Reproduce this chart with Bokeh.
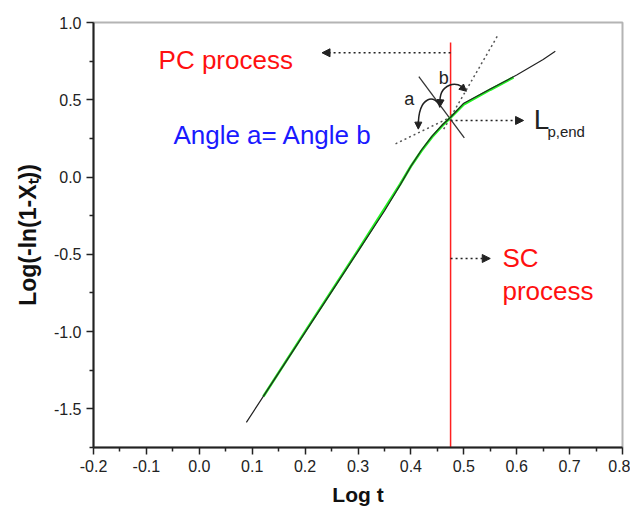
import numpy as np
from bokeh.plotting import figure
from bokeh.models import (FixedTicker, NumeralTickFormatter, Label, Arrow,
                          NormalHead)
from bokeh.embed import file_html
from bokeh.resources import INLINE

# ---- data ----
curve_x = [0.089, 0.15, 0.20, 0.25, 0.30, 0.35, 0.38, 0.40, 0.42, 0.44, 0.46, 0.475, 0.50, 0.55, 0.60, 0.65, 0.673]
curve_y = [-1.587, -1.267, -1.005, -0.743, -0.481, -0.22, -0.05, 0.07, 0.175, 0.265, 0.34, 0.387, 0.478, 0.57, 0.66, 0.76, 0.814]
fit_x = [0.121, 0.20, 0.30, 0.38, 0.40, 0.42, 0.44, 0.46, 0.475, 0.50, 0.55, 0.594]
fit_y = [-1.42, -1.0, -0.475, -0.045, 0.07, 0.17, 0.26, 0.335, 0.385, 0.47, 0.565, 0.645]
x_ticks = [-0.2, -0.1, 0.0, 0.1, 0.2, 0.3, 0.4, 0.5, 0.6, 0.7, 0.8]
y_ticks = [-1.5, -1.0, -0.5, 0.0, 0.5, 1.0]
x_minor = [-0.15, -0.05, 0.05, 0.15, 0.25, 0.35, 0.45, 0.55, 0.65, 0.75]
y_minor = [-1.75, -1.25, -0.75, -0.25, 0.25, 0.75]
log_t_end = 0.475      # end of PC process (red line)
knee_y = 0.387

FONT = "Liberation Sans"

p = figure(frame_width=529, frame_height=425,
           min_border_left=93, min_border_right=8,
           min_border_top=22, min_border_bottom=56,
           x_range=(-0.2, 0.8), y_range=(-1.75, 1.0),
           output_backend="svg", toolbar_location=None)
p.background_fill_color = "white"
p.border_fill_color = "white"
p.xgrid.visible = False
p.ygrid.visible = False
p.outline_line_color = "#b4b4b4"
p.outline_line_width = 2

p.xaxis.ticker = FixedTicker(ticks=x_ticks, minor_ticks=x_minor)
p.yaxis.ticker = FixedTicker(ticks=y_ticks, minor_ticks=y_minor)
for ax in (p.xaxis, p.yaxis):
    ax.formatter = NumeralTickFormatter(format="0.0")
    ax.axis_line_color = "#222222"
    ax.axis_line_width = 2
    ax.major_tick_line_color = "#222222"
    ax.minor_tick_line_color = "#222222"
    ax.major_tick_line_width = 1.5
    ax.minor_tick_line_width = 1.5
    ax.major_tick_out = 7
    ax.major_tick_in = 0
    ax.minor_tick_out = 4
    ax.minor_tick_in = 0
    ax.major_label_text_font = FONT
    ax.major_label_text_font_size = "16px"
    ax.major_label_text_color = "#222222"
    ax.axis_label_text_font = FONT
    ax.axis_label_text_font_style = "bold"
    ax.axis_label_text_font_size = "21px"
    ax.axis_label_text_color = "#111111"
p.yaxis.axis_label_text_font_size = "23px"
p.xaxis.axis_label = "Log t"
p.yaxis.axis_label = "Log(-ln(1-X\u209c))"
p.xaxis.major_label_standoff = 5
p.xaxis.axis_label_standoff = 8
p.yaxis.major_label_standoff = 5
p.yaxis.axis_label_standoff = 10

# red vertical line
p.segment(x0=[log_t_end], y0=[-1.75], x1=[log_t_end], y1=[0.87],
          line_color="#ff2020", line_width=1.5)

# tangent dotted lines
p.line([0.371, 0.475], [0.215, knee_y], line_color="#555555", line_width=1.5, line_dash="2 3")
p.line([0.462, 0.566], [0.31, 0.927], line_color="#555555", line_width=1.5, line_dash="2 3")
# solid crossing line
p.line([0.415, 0.501], [0.650, 0.254], line_color="#333333", line_width=1.3)

# data curve and fit
p.line(fit_x, fit_y, line_color="#22f022", line_width=2.6)
p.line(curve_x, curve_y, line_color="#222222", line_width=1.2)

# angle arcs
p.bezier(x0=[0.455], y0=[0.45], x1=[0.414], y1=[0.33],
         cx0=[0.447], cy0=[0.54], cx1=[0.414], cy1=[0.53],
         line_color="#222222", line_width=1.5)
p.bezier(x0=[0.455], y0=[0.47], x1=[0.502], y1=[0.565],
         cx0=[0.452], cy0=[0.61], cx1=[0.49], cy1=[0.63],
         line_color="#222222", line_width=1.5)

def head(x0, y0, x1, y1, size=7):
    p.add_layout(Arrow(end=NormalHead(size=size, fill_color="#222222", line_color="#222222"),
                       x_start=x0, y_start=y0, x_end=x1, y_end=y1,
                       line_color="#222222", line_width=1.5))

head(0.414, 0.36, 0.414, 0.31)
head(0.456, 0.50, 0.455, 0.455)
head(0.495, 0.585, 0.505, 0.555)

# dotted arrows
def dotted_arrow(x0, y0, x1, y1):
    p.add_layout(Arrow(end=NormalHead(size=8, fill_color="#222222", line_color="#222222"),
                       x_start=x0, y_start=y0, x_end=x1, y_end=y1,
                       line_color="#222222", line_width=1.5, line_dash="2 3"))

dotted_arrow(log_t_end, 0.804, 0.232, 0.804)
dotted_arrow(log_t_end, 0.366, 0.613, 0.366)
dotted_arrow(log_t_end, -0.527, 0.55, -0.527)

def label(x, y, text, color, size, align="left"):
    p.add_layout(Label(x=x, y=y, text=text, text_color=color, text_font=FONT,
                       text_font_size=size, text_baseline="middle", text_align=align))

label(-0.077, 0.76, "PC process", "#ff1010", "26px")
label(-0.049, 0.275, "Angle a= Angle b", "#1a1aff", "26px")
label(0.573, -0.527, "SC", "#ff1010", "26px")
label(0.573, -0.735, "process", "#ff1010", "26px")
label(0.632, 0.372, "L", "#222222", "28px")
label(0.658, 0.294, "p,end", "#222222", "15px")
label(0.397, 0.508, "a", "#222222", "18px", "center")
label(0.462, 0.644, "b", "#222222", "18px", "center")

open("out.html", "w").write(file_html(p, INLINE))
